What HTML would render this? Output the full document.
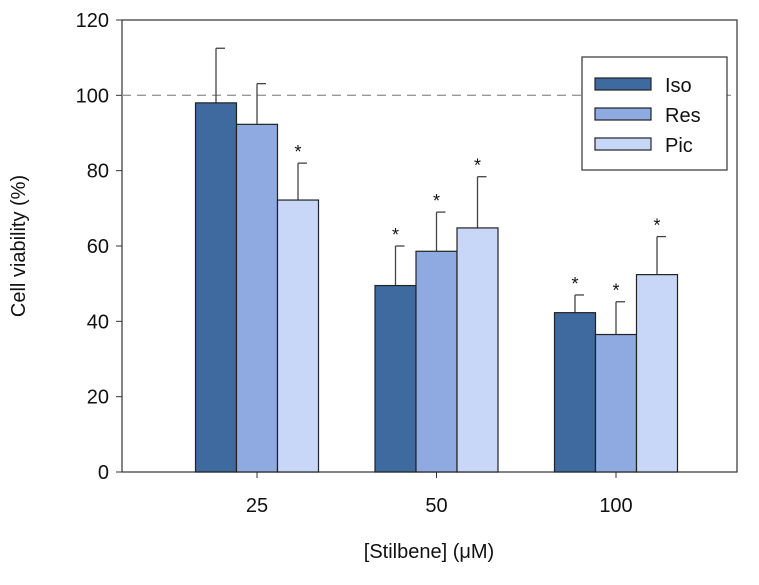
<!DOCTYPE html>
<html><head><meta charset="utf-8"><style>
body{margin:0;background:#fff}
svg{display:block;font-family:"Liberation Sans",Arial,sans-serif}
</style></head><body>
<svg id="chart" width="759" height="585">
<g id="g"></g>
</svg>
<script>
const categories=["25","50","100"];
const series=["Iso","Res","Pic"];
const colors=["#3e6a9f","#8eaae0","#c8d7f8"];
const isoVals=[98,49.5,42.3];
const resVals=[92.3,58.6,36.5];
const picVals=[72.2,64.8,52.4];
const isoErr=[14.5,10.5,4.7];
const resErr=[10.8,10.4,8.7];
const picErr=[9.8,13.6,10.1];
const isoSig=[false,true,true];
const resSig=[false,true,true];
const picSig=[true,true,true];
const yTicks=[0,20,40,60,80,100,120];

const NS="http://www.w3.org/2000/svg";
const g=document.getElementById('g');
const X0=122,X1=737,Y0=472,Y1=20,YMAX=120;
const y=v=>Y0-(v/YMAX)*(Y0-Y1);
const groupCenter=i=>257+i*179.5;
const BW=41;
function mk(tag,attrs,parent){const e=document.createElementNS(NS,tag);for(const k in attrs)e.setAttribute(k,attrs[k]);(parent||g).appendChild(e);return e;}

// frame
let fr=mk('rect',{x:X0,y:Y1,width:X1-X0,height:Y0-Y1,fill:'none',stroke:'#333','stroke-width':1.2});


// reference line
let rl=mk('line',{x1:X0,x2:X1,y1:y(100),y2:y(100),stroke:'#999','stroke-width':1.3,'stroke-dasharray':'9,6'});


// y ticks
yTicks.forEach(t=>{
  let l=mk('line',{x1:X0-6,x2:X0,y1:y(t),y2:y(t),stroke:'#333'});
  
  
  let tx=mk('text',{x:X0-13,y:y(t)+7,'text-anchor':'end','font-size':20,fill:'#111'});
  tx.textContent=t;
  
  
});
const vals=[isoVals,resVals,picVals],errs=[isoErr,resErr,picErr],sigs=[isoSig,resSig,picSig];
categories.forEach((c,i)=>{
  const cx=groupCenter(i);
  let tk=mk('line',{x1:cx,x2:cx,y1:Y0,y2:Y0+6,stroke:'#333'});
  
  
  let tx=mk('text',{x:cx,y:Y0+40,'text-anchor':'middle','font-size':20,fill:'#111'});
  tx.textContent=c;
  
  
  series.forEach((s,j)=>{
    const v=vals[j][i],e=errs[j][i];
    const bx=cx-1.5*BW+j*BW, mx=bx+BW/2;
    let el=mk('line',{x1:mx,x2:mx,y1:y(v),y2:y(v+e),stroke:'#444','stroke-width':1.3});
    
    
    let cap=mk('line',{x1:mx,x2:mx+9,y1:y(v+e),y2:y(v+e),stroke:'#444','stroke-width':1.3});
    
    
    let r=mk('rect',{x:bx,y:y(v),width:BW,height:Y0-y(v),fill:colors[j],stroke:'#222','stroke-width':1.2});
    
    
    if(sigs[j][i]){
      let st=mk('text',{x:mx,y:y(v+e)-5,'text-anchor':'middle','font-size':18,fill:'#111'});
      st.textContent='*';
      
      
    }
  });
});
// axis titles
let yt=mk('text',{transform:'translate(25,246) rotate(-90)','text-anchor':'middle','font-size':20,fill:'#111'});
yt.textContent='Cell viability (%)';


let xt=mk('text',{x:429,y:558,'text-anchor':'middle','font-size':20,fill:'#111'});
xt.textContent='[Stilbene] (\u03BCM)';


// legend
let lg=mk('g',{});


mk('rect',{x:582,y:57,width:145,height:113,fill:'#fff',stroke:'#333','stroke-width':1.2},lg);
series.forEach((s,j)=>{
  let sw=mk('rect',{x:595,y:78+j*30,width:56,height:12,fill:colors[j],stroke:'#222','stroke-width':1.2},lg);
  
  
  let t=mk('text',{x:665,y:92+j*30,'font-size':20,fill:'#111'},lg);
  t.textContent=s;
  
  
});
</script>
</body></html>
